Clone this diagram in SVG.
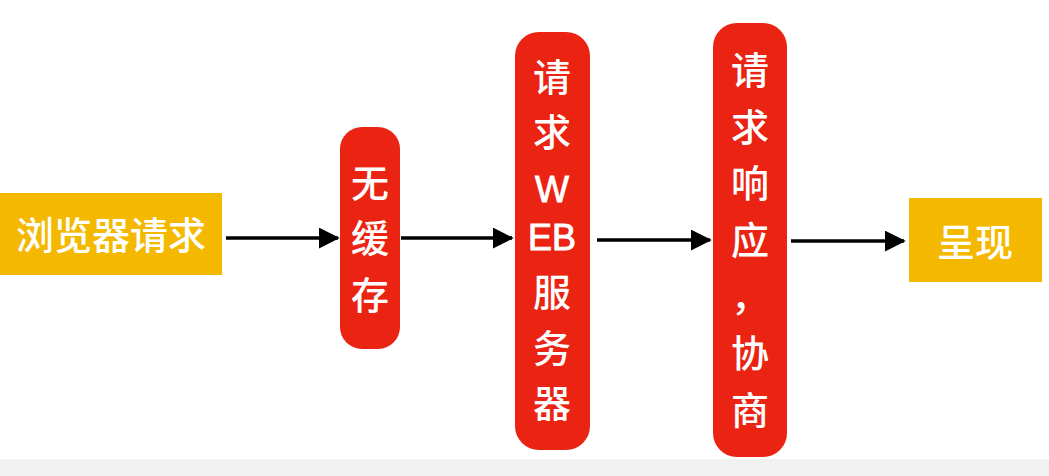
<svg xmlns="http://www.w3.org/2000/svg" width="1049" height="476" viewBox="0 0 1049 476">
<style>
.y{fill:#F4B800}
.r{fill:#EA2312}
.t{fill:#fff;font-family:"Noto Sans CJK SC","Liberation Sans",sans-serif;font-size:38px;font-weight:500;text-anchor:middle}
.l{fill:#fff;stroke:#fff;stroke-width:0.9;font-family:"Liberation Sans","Noto Sans CJK SC",sans-serif;font-size:36px;text-anchor:middle}
.c{stroke:#000;stroke-width:3.5;fill:none;marker-end:url(#ah)}
</style>
<defs>
<marker id="ah" markerWidth="6" markerHeight="6" refX="5.5" refY="3" orient="auto" markerUnits="strokeWidth">
<path d="M0,0 L6,3 L0,6 Z" fill="#000"/>
</marker>
</defs>
<rect x="0" y="0" width="1049" height="476" fill="#fff"/>
<rect x="0" y="459" width="1049" height="17" fill="#f1f1f1"/>
<g id="connectors">
<line class="c" x1="226" y1="238" x2="338" y2="238"/>
<line class="c" x1="401" y1="238" x2="512" y2="238"/>
<line class="c" x1="597" y1="240" x2="710" y2="240"/>
<line class="c" x1="791" y1="241" x2="904" y2="241"/>
</g>
<g id="n1">
<rect class="y" x="0" y="193" width="222" height="82"/>
<text class="t" x="111" y="249">浏览器请求</text>
</g>
<g id="n2">
<rect class="r" x="340" y="127" width="60" height="222" rx="22"/>
<text class="t" x="370" y="197">无</text>
<text class="t" x="370" y="252">缓</text>
<text class="t" x="370" y="309">存</text>
</g>
<g id="n3">
<rect class="r" x="515" y="32" width="75" height="418" rx="24"/>
<text class="t" x="552" y="91">请</text>
<text class="t" x="552" y="146">求</text>
<text class="l" x="552" y="202">W</text>
<text class="l" x="552" y="250">EB</text>
<text class="t" x="552" y="306">服</text>
<text class="t" x="552" y="362">务</text>
<text class="t" x="552" y="417">器</text>
</g>
<g id="n4">
<rect class="r" x="713" y="23" width="74" height="434" rx="24"/>
<text class="t" x="750" y="84">请</text>
<text class="t" x="750" y="141">求</text>
<text class="t" x="750" y="197">响</text>
<text class="t" x="750" y="254">应</text>
<text class="t" x="750" y="310">，</text>
<text class="t" x="750" y="367">协</text>
<text class="t" x="750" y="424">商</text>
</g>
<g id="n5">
<rect class="y" x="909" y="198" width="133" height="84"/>
<text class="t" x="975" y="256">呈现</text>
</g>
</svg>
